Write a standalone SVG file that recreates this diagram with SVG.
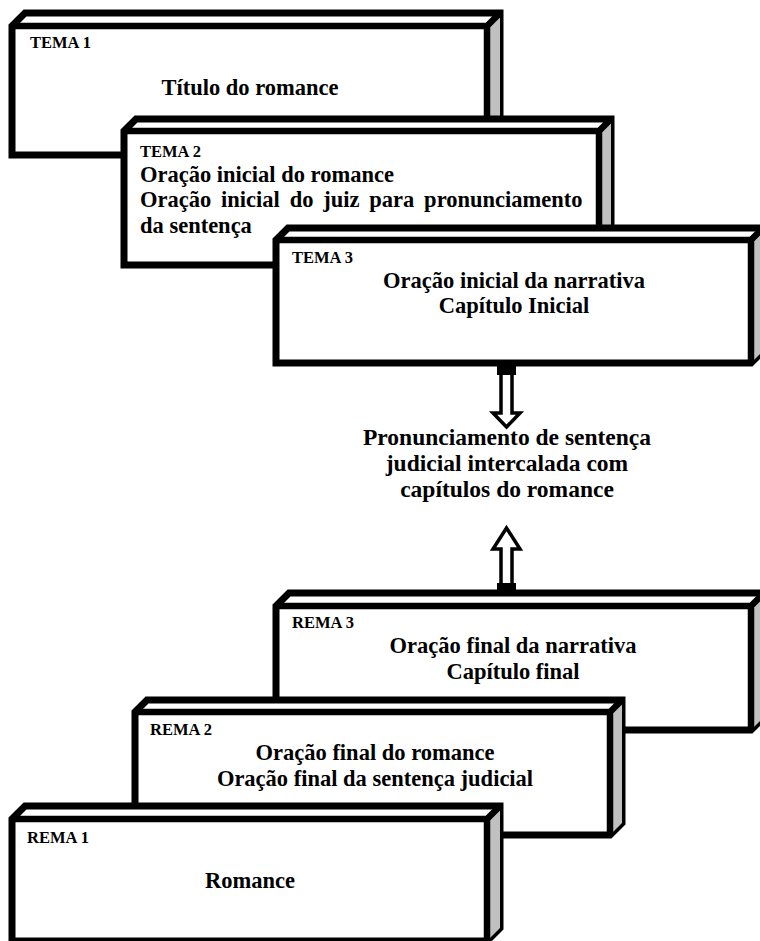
<svg xmlns="http://www.w3.org/2000/svg" width="760" height="941" viewBox="0 0 760 941">
<style>
.box{fill:#fff;stroke:#000;stroke-width:7;stroke-linejoin:miter}
.side{fill:#c0c0c0;stroke:none}
.edge{fill:none;stroke:#000;stroke-width:6.5}
text{font-family:"Liberation Serif","DejaVu Serif","Noto Serif",serif;font-weight:700;fill:#000}
.lab{font-size:16.5px}
.main{font-size:22.5px}
.mid{font-size:23.5px}
.c{text-anchor:middle}
.arrow{fill:#fff;stroke:#000;stroke-width:3.5;stroke-linejoin:miter}
</style>
<g id="tema1">
<path class="box" d="M12 26 L25 13 H500 V142 L487 155 H12 Z"/>
<path class="side" d="M487 26 L500 13 V142 L487 155 Z"/>
<path class="edge" d="M12 26 H487 M487 26 L500 13 M487 26 V155"/>
<text class="lab" x="30" y="48">TEMA 1</text>
<text class="main c" x="250" y="95">Título do romance</text>
</g>
<g id="tema2">
<path class="box" d="M124 131 L136 119 H611 V253 L599 265 H124 Z"/>
<path class="side" d="M599 131 L611 119 V253 L599 265 Z"/>
<path class="edge" d="M124 131 H599 M599 131 L611 119 M599 131 V265"/>
<text class="lab" x="140" y="157">TEMA 2</text>
<text class="main" x="140" y="182">Oração inicial do romance</text>
<text class="main" x="140" y="207" word-spacing="4.2">Oração inicial do juiz para pronunciamento</text>
<text class="main" x="140" y="233">da sentença</text>
</g>
<g id="tema3">
<path class="box" d="M276 240 L288 228 H763 V351 L751 363 H276 Z"/>
<path class="side" d="M751 240 L763 228 V351 L751 363 Z"/>
<path class="edge" d="M276 240 H751 M751 240 L763 228 M751 240 V363"/>
<text class="lab" x="292" y="263">TEMA 3</text>
<text class="main c" x="514" y="288">Oração inicial da narrativa</text>
<text class="main c" x="514" y="313">Capítulo Inicial</text>
</g>
<g id="connectors">
<path class="arrow" d="M501 366 H512 V413 H520 L506.5 427 L493 413 H501 Z"/>
<rect x="497" y="363" width="19" height="12" fill="#000"/>
<path class="arrow" d="M501 592 H512 V549 H520 L506.5 528 L493 549 H501 Z"/>
<rect x="497" y="583" width="19" height="11" fill="#000"/>
</g>
<g id="centro">
<text class="mid c" x="507" y="445">Pronunciamento de sentença</text>
<text class="mid c" x="507" y="471">judicial intercalada com</text>
<text class="mid c" x="507" y="497">capítulos do romance</text>
</g>
<g id="rema3">
<path class="box" d="M276 606 L289 593 H764 V717 L751 730 H276 Z"/>
<path class="side" d="M751 606 L764 593 V717 L751 730 Z"/>
<path class="edge" d="M276 606 H751 M751 606 L764 593 M751 606 V730"/>
<text class="lab" x="292" y="628">REMA 3</text>
<text class="main c" x="513" y="653">Oração final da narrativa</text>
<text class="main c" x="513" y="679">Capítulo final</text>
</g>
<g id="rema2">
<path class="box" d="M135 712 L147 700 H622 V823 L610 835 H135 Z"/>
<path class="side" d="M610 712 L622 700 V823 L610 835 Z"/>
<path class="edge" d="M135 712 H610 M610 712 L622 700 M610 712 V835"/>
<text class="lab" x="150" y="735">REMA 2</text>
<text class="main c" x="375" y="760">Oração final do romance</text>
<text class="main c" x="375" y="786">Oração final da sentença judicial</text>
</g>
<g id="rema1">
<path class="box" d="M12 819 L25 806 H500 V928 L487 941 H12 Z"/>
<path class="side" d="M487 819 L500 806 V928 L487 941 Z"/>
<path class="edge" d="M12 819 H487 M487 819 L500 806 M487 819 V941"/>
<text class="lab" x="27" y="843">REMA 1</text>
<text class="main c" x="250" y="888">Romance</text>
</g>
</svg>
